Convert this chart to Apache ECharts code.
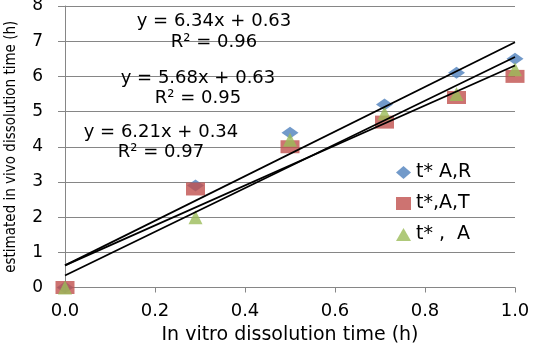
<!DOCTYPE html>
<html>
<head>
<meta charset="utf-8">
<script src="https://cdn.jsdelivr.net/npm/echarts@6/dist/echarts.min.js"></script>
<style>
  html, body { margin: 0; padding: 0; background: #fff; }
  #chart { width: 533px; height: 343px; }
</style>
</head>
<body>
<div id="chart"></div>
<script>
var myChart = echarts.init(document.getElementById('chart'));

// in vitro dissolution times (h)
var xValues = [0, 0.29, 0.5, 0.71, 0.87, 1.0];
// estimated in vivo dissolution times (h)
var seriesAR = [0, 2.9, 4.4, 5.2, 6.1, 6.5];
var seriesAT = [0, 2.8, 4.0, 4.7, 5.4, 6.0];
var seriesA = [0, 2.0, 4.2, 4.95, 5.5, 6.2];
var seriesNames = ['t* A,R', 't*,A,T', 't* ,  A'];

// trend lines: slope, intercept
var slopes = [6.34, 5.68, 6.21];
var intercepts = [0.63, 0.63, 0.34];
var r2 = ['0.96', '0.95', '0.97'];

function pairs(ys) {
  return xValues.map(function (x, i) { return [x, ys[i]]; });
}

var font = '"DejaVu Sans", sans-serif';

var trendSeries = slopes.map(function (m, i) {
  return {
    type: 'line',
    data: [[0, intercepts[i]], [1, m + intercepts[i]]],
    symbol: 'none',
    lineStyle: { color: '#000', width: 1.8 },
    silent: true,
    z: 6
  };
});

// equation labels (pixel positions)
var eqPos = [[214, 21, 42], [198, 78, 98], [161, 132, 152]];
var eqGraphics = [];
slopes.forEach(function (m, i) {
  eqGraphics.push({
    type: 'text', x: eqPos[i][0], y: eqPos[i][1], z: 10,
    style: { text: 'y = ' + m.toFixed(2) + 'x + ' + intercepts[i].toFixed(2),
      font: '18px ' + font, fill: '#000', align: 'center', verticalAlign: 'middle' }
  });
  eqGraphics.push({
    type: 'text', x: eqPos[i][0], y: eqPos[i][2], z: 10,
    style: { text: 'R² = ' + r2[i],
      font: '18px ' + font, fill: '#000', align: 'center', verticalAlign: 'middle' }
  });
});

myChart.setOption({
  animation: false,
  grid: { left: 65, right: 18, top: 6, bottom: 55.5, outerBoundsMode: 'none', containLabel: false },
  legend: {
    orient: 'vertical',
    left: 391,
    top: 158,
    itemGap: 12,
    itemWidth: 15,
    itemHeight: 13,
    data: seriesNames,
    textStyle: { fontFamily: font, fontSize: 19, color: '#000' }
  },
  xAxis: {
    type: 'value',
    min: 0, max: 1, interval: 0.2,
    name: 'In vitro dissolution time (h)',
    nameLocation: 'middle',
    nameGap: 38,
    nameTextStyle: { fontFamily: font, fontSize: 19, color: '#000' },
    axisLine: { show: true, lineStyle: { color: '#868686' } },
    axisTick: { show: true, length: 5, lineStyle: { color: '#868686' } },
    axisLabel: { fontFamily: font, fontSize: 18, color: '#000', margin: 15,
      formatter: function (v) { return v.toFixed(1); } },
    splitLine: { show: false }
  },
  yAxis: {
    type: 'value',
    min: 0, max: 8, interval: 1,
    name: 'estimated in vivo dissolution time (h)',
    nameLocation: 'middle',
    nameGap: 46,
    nameTextStyle: { fontFamily: '"DejaVu Sans Condensed", "Liberation Sans Narrow", sans-serif', fontSize: 15, color: '#000' },
    axisLine: { show: true, lineStyle: { color: '#868686' } },
    axisTick: { show: true, length: 7, lineStyle: { color: '#868686' } },
    axisLabel: { fontFamily: font, fontSize: 17, color: '#000', margin: 22 },
    splitLine: { show: true, lineStyle: { color: '#868686', width: 1 } }
  },
  graphic: eqGraphics,
  series: [
    {
      name: seriesNames[0], type: 'scatter', data: pairs(seriesAR),
      symbol: 'diamond', symbolSize: [17, 12],
      itemStyle: { color: '#4F81BD' }, z: 3
    },
    {
      name: seriesNames[1], type: 'scatter', data: pairs(seriesAT),
      symbol: 'rect', symbolSize: [19, 13],
      itemStyle: { color: '#C0504D' }, z: 4
    },
    {
      name: seriesNames[2], type: 'scatter', data: pairs(seriesA),
      symbol: 'triangle', symbolSize: [14, 14],
      itemStyle: { color: '#9BBB59' }, z: 5
    }
  ].concat(trendSeries)
});
</script>
</body>
</html>
